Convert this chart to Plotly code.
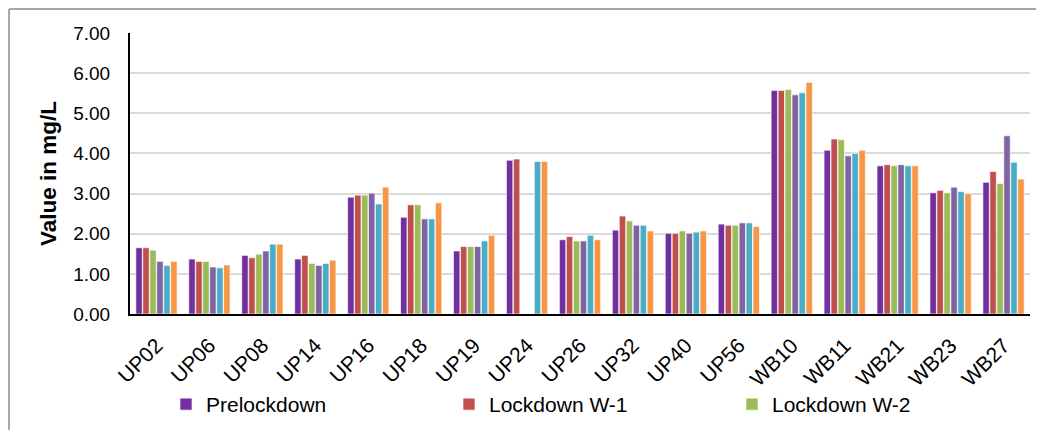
import plotly.graph_objects as go

sites = ["UP02", "UP06", "UP08", "UP14", "UP16", "UP18", "UP19", "UP24", "UP26",
         "UP32", "UP40", "UP56", "WB10", "WB11", "WB21", "WB23", "WB27"]

prelockdown = [1.65, 1.37, 1.46, 1.37, 2.91, 2.41, 1.57, 3.83, 1.85, 2.09, 2.01, 2.24, 5.57, 4.08, 3.69, 3.02, 3.28]
lockdown_w1 = [1.65, 1.31, 1.40, 1.46, 2.96, 2.72, 1.68, 3.86, 1.93, 2.44, 2.01, 2.21, 5.57, 4.36, 3.72, 3.08, 3.55]
lockdown_w2 = [1.59, 1.31, 1.49, 1.26, 2.96, 2.72, 1.68, None, 1.82, 2.32, 2.07, 2.21, 5.59, 4.34, 3.69, 3.02, 3.25]
lockdown_w3 = [1.31, 1.17, 1.57, 1.21, 3.01, 2.37, 1.68, None, 1.82, 2.21, 2.01, 2.27, 5.46, 3.94, 3.72, 3.16, 4.44]
lockdown_w4 = [1.21, 1.15, 1.74, 1.26, 2.74, 2.37, 1.82, 3.80, 1.96, 2.21, 2.04, 2.27, 5.51, 4.00, 3.69, 3.05, 3.78]
lockdown_w5 = [1.31, 1.22, 1.74, 1.34, 3.16, 2.77, 1.96, 3.80, 1.85, 2.07, 2.07, 2.18, 5.77, 4.08, 3.69, 3.00, 3.36]

series_names = ["Prelockdown", "Lockdown W-1", "Lockdown W-2", "Lockdown W-3", "Lockdown W-4", "Lockdown W-5"]
series_values = [prelockdown, lockdown_w1, lockdown_w2, lockdown_w3, lockdown_w4, lockdown_w5]
colors = ["#7030A0", "#C0504D", "#9BBB59", "#8064A2", "#4BACC6", "#F79646"]
in_legend = [True, True, True, False, False, False]

FONT = "Liberation Sans, Arial, Helvetica, sans-serif"

fig = go.Figure()
for name, vals, col, leg in zip(series_names, series_values, colors, in_legend):
    fig.add_trace(go.Bar(
        x=sites, y=vals, name=name, showlegend=leg,
        marker=dict(color=col, line=dict(color="rgba(255,255,255,0.8)", width=0.8)),
    ))

fig.update_layout(
    width=1044, height=430,
    margin=dict(l=122, r=22, t=25, b=124, autoexpand=False),
    paper_bgcolor="white", plot_bgcolor="white",
    barmode="group", bargap=0.21, bargroupgap=0.08,
    font=dict(family=FONT, color="black"),
    legend=dict(
        orientation="h", x=0.040, xanchor="left", y=-0.322, yanchor="middle",
        font=dict(size=21, family=FONT, color="black"),
        entrywidth=238, entrywidthmode="pixels", itemwidth=30,
        traceorder="normal", bgcolor="rgba(0,0,0,0)",
    ),
    xaxis=dict(
        showline=True, linecolor="black", linewidth=2,
        tickangle=-45, tickfont=dict(size=21, family=FONT),
        showgrid=False, ticks="", ticklabelstandoff=9, automargin=False,
    ),
    yaxis=dict(
        range=[0, 7], dtick=1, tickformat=".2f",
        showline=True, linecolor="black", linewidth=2,
        showgrid=True, gridcolor="#d9d9d9", gridwidth=2,
        tickfont=dict(size=19, family=FONT), ticks="", ticklabelstandoff=14,
        zeroline=False, automargin=False,
        title=dict(text="<b>Value in mg/L</b>", font=dict(size=22.5, family=FONT), standoff=10),
    ),
    shapes=[
        dict(type="line", xref="paper", yref="paper", x0=-0.1344, x1=1.03, y0=1.0855, y1=1.0855,
             line=dict(color="#a6a6a6", width=2)),
        dict(type="line", xref="paper", yref="paper", x0=-0.1344, x1=-0.1344, y0=1.0855, y1=-0.48,
             line=dict(color="#a6a6a6", width=2)),
    ],
)

fig.write_html("out.html")
